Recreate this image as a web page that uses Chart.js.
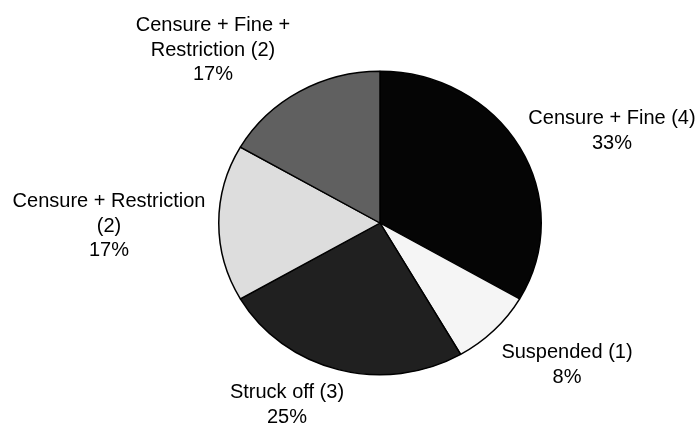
<!DOCTYPE html>
<html lang="en">

<head>
    <meta charset="UTF-8">
    <title>Sanctions</title>
    <style>
        html, body { margin: 0; padding: 0; background: #fff; }
        .chart-box { width: 700px; height: 424px; }
    </style>
</head>

<body>
    <div class="chart-box">
        <canvas id="myChart" width="700" height="424"></canvas>
    </div>

    <script src="https://cdn.jsdelivr.net/npm/chart.js"></script>

    <script>
        // outcomes and how many cases ended that way
        const categories = ['Censure + Fine', 'Suspended', 'Struck off', 'Censure + Restriction', 'Censure + Fine + Restriction'];
        const counts = [4, 1, 3, 2, 2];
        const sliceColors = ['#050505', '#f5f5f5', '#202020', '#dddddd', '#606060'];

        // where each label block sits (centre x, first baseline y)
        const labelSpots = [
            [612, 124],
            [567, 358],
            [287, 398],
            [109, 207],
            [213, 31]
        ];

        const total = counts.reduce((a, b) => a + b, 0);

        // squash the pie a little so it comes out oval
        const ovalPie = {
            id: 'ovalPie',
            beforeDatasetsDraw(chart) {
                const arc = chart.getDatasetMeta(0).data[0];
                const ctx = chart.ctx;
                ctx.save();
                ctx.translate(arc.x, arc.y);
                ctx.scale(1, 0.941);
                ctx.translate(-arc.x, -arc.y);
            },
            afterDatasetsDraw(chart) {
                chart.ctx.restore();
            }
        };

        function wrapText(ctx, text, maxWidth) {
            const words = text.split(' ');
            const lines = [];
            let line = '';
            words.forEach(w => {
                const test = line ? line + ' ' + w : w;
                if (line && ctx.measureText(test).width > maxWidth) {
                    lines.push(line);
                    line = w;
                } else {
                    line = test;
                }
            });
            if (line) lines.push(line);
            return lines;
        }

        // outside labels: name (count) and share
        const sliceLabels = {
            id: 'sliceLabels',
            afterDraw(chart) {
                const ctx = chart.ctx;
                ctx.save();
                ctx.font = '20px "Liberation Sans", Arial, sans-serif';
                ctx.fillStyle = '#000';
                ctx.textAlign = 'center';
                ctx.textBaseline = 'alphabetic';
                categories.forEach((name, i) => {
                    const pct = Math.round(counts[i] / total * 100) + '%';
                    const lines = wrapText(ctx, name + ' (' + counts[i] + ')', 205);
                    lines.push(pct);
                    const [x, y] = labelSpots[i];
                    lines.forEach((l, j) => ctx.fillText(l, x, y + j * 24.7));
                });
                ctx.restore();
            }
        };

        new Chart(document.getElementById('myChart'), {
            type: 'pie',
            data: {
                labels: categories,
                datasets: [{
                    data: counts,
                    backgroundColor: sliceColors,
                    borderColor: '#000',
                    borderWidth: 1.5
                }]
            },
            options: {
                responsive: false,
                animation: false,
                layout: {
                    padding: { left: 218, right: 158, top: 61, bottom: 39 }
                },
                plugins: {
                    legend: { display: false },
                    tooltip: { enabled: false }
                }
            },
            plugins: [ovalPie, sliceLabels]
        });
    </script>
</body>

</html>
